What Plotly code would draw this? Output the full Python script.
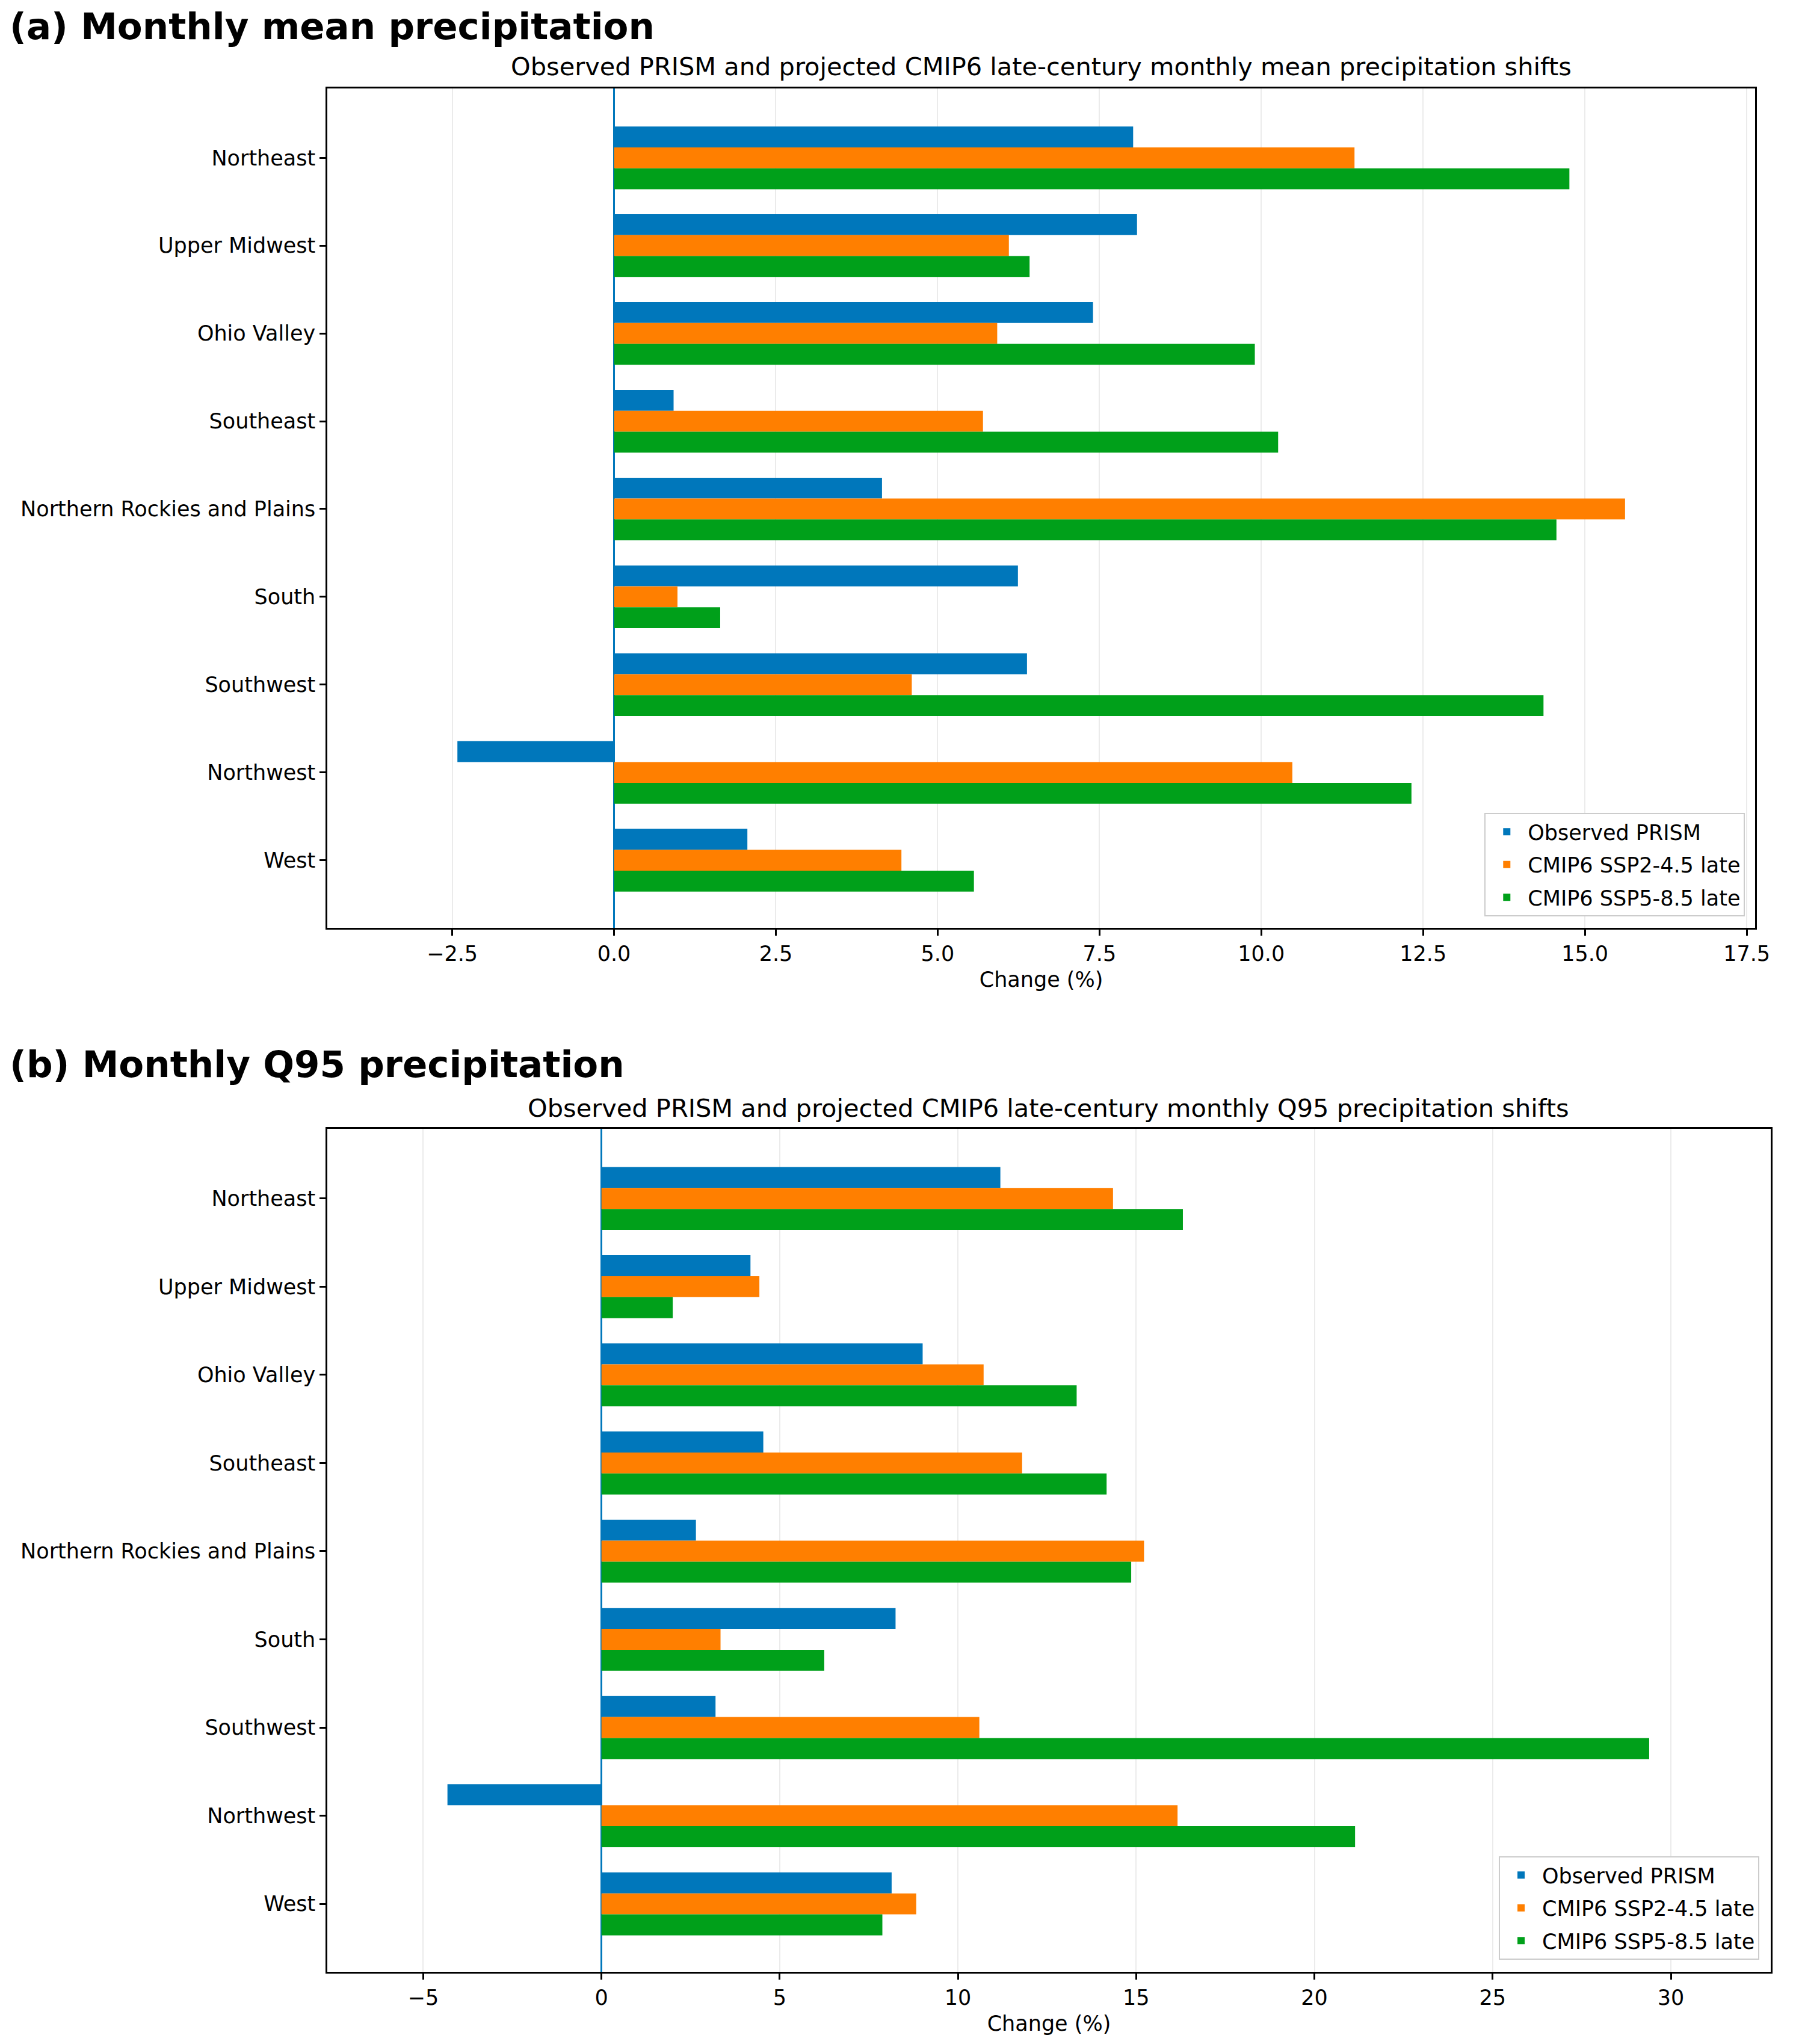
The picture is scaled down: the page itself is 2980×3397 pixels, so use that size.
import plotly.graph_objects as go

regions = ["Northeast", "Upper Midwest", "Ohio Valley", "Southeast",
           "Northern Rockies and Plains", "South", "Southwest", "Northwest", "West"]
series_names = ["Observed PRISM", "CMIP6 SSP2-4.5 late", "CMIP6 SSP5-8.5 late"]
colors = ["#0077BB", "#FF7F00", "#00A01A"]

# (a) monthly mean precipitation change (%)
mean_prism = [8.02, 8.08, 7.40, 0.92, 4.14, 6.24, 6.38, -2.42, 2.06]
mean_ssp245 = [11.44, 6.10, 5.92, 5.70, 15.62, 0.98, 4.60, 10.48, 4.44]
mean_ssp585 = [14.76, 6.42, 9.90, 10.26, 14.56, 1.64, 14.36, 12.32, 5.56]

# (b) monthly Q95 precipitation change (%)
q95_prism = [11.19, 4.18, 9.01, 4.54, 2.65, 8.25, 3.20, -4.32, 8.14]
q95_ssp245 = [14.35, 4.43, 10.72, 11.80, 15.22, 3.34, 10.60, 16.16, 8.83]
q95_ssp585 = [16.31, 2.00, 13.33, 14.17, 14.86, 6.25, 29.39, 21.14, 7.88]

FONT = "DejaVu Sans"

fig = go.Figure()

panels = [
    ("x", "y", "legend", "a", [mean_prism, mean_ssp245, mean_ssp585]),
    ("x2", "y2", "legend2", "b", [q95_prism, q95_ssp245, q95_ssp585]),
]
for xa, ya, leg, tag, vals in panels:
    for i, (name, col, v) in enumerate(zip(series_names, colors, vals)):
        fig.add_trace(go.Bar(
            y=regions, x=v, name=name, orientation="h",
            marker=dict(color=col, line=dict(width=0)),
            xaxis=xa, yaxis=ya, legend=leg, legendgroup=f"{tag}{i}",
        ))

axis_common = dict(
    showline=True, linecolor="black", linewidth=2.5, mirror=True,
    ticks="outside", ticklen=10, tickwidth=2.5, tickcolor="black",
    tickfont=dict(size=35, color="black", family=FONT),
)

legend_common = dict(xanchor="right", yanchor="bottom", bgcolor="white",
                     bordercolor="#CCCCCC", borderwidth=2, font=dict(size=35),
                     itemwidth=60, tracegroupgap=6)

fig.update_layout(
    width=2980, height=3397,
    paper_bgcolor="white", plot_bgcolor="white",
    margin=dict(l=544, r=20, t=147, b=120),
    barmode="group", bargap=0.286, bargroupgap=0,
    font=dict(family=FONT, color="black", size=35),
    xaxis=dict(domain=[0, 0.9892], anchor="y", range=[-4.43, 17.63], dtick=2.5, tick0=0,
               tickformat=".1f", showgrid=True, gridcolor="#EBEBEB", gridwidth=2,
               zeroline=True, zerolinecolor="#0077BB", zerolinewidth=3,
               title=dict(text="Change (%)", font=dict(size=35), standoff=12),
               **axis_common),
    yaxis=dict(domain=[0.5543, 1.0], anchor="x", range=[8.77, -0.79],
               showgrid=False, **axis_common),
    xaxis2=dict(domain=[0, 1.0], anchor="y2", range=[-7.69, 32.8], dtick=5, tick0=0,
                showgrid=True, gridcolor="#EBEBEB", gridwidth=2,
                zeroline=True, zerolinecolor="#0077BB", zerolinewidth=3,
                title=dict(text="Change (%)", font=dict(size=35), standoff=12),
                **axis_common),
    yaxis2=dict(domain=[0, 0.4476], anchor="x2", range=[8.77, -0.79],
                showgrid=False, **axis_common),
    legend=dict(x=0.9822, y=0.5604, **legend_common),
    legend2=dict(x=0.9921, y=0.0064, **legend_common),
    annotations=[
        dict(text="<b>(a) Monthly mean precipitation</b>", xref="paper", yref="paper",
             x=-0.221, y=1.0332, xanchor="left", yanchor="middle", showarrow=False,
             font=dict(size=61, family=FONT)),
        dict(text="Observed PRISM and projected CMIP6 late-century monthly mean precipitation shifts",
             xref="paper", yref="paper", x=0.4946, y=1.0118, xanchor="center", yanchor="middle",
             showarrow=False, font=dict(size=41.5, family=FONT)),
        dict(text="<b>(b) Monthly Q95 precipitation</b>", xref="paper", yref="paper",
             x=-0.221, y=0.4821, xanchor="left", yanchor="middle", showarrow=False,
             font=dict(size=61, family=FONT)),
        dict(text="Observed PRISM and projected CMIP6 late-century monthly Q95 precipitation shifts",
             xref="paper", yref="paper", x=0.4996, y=0.4585, xanchor="center", yanchor="middle",
             showarrow=False, font=dict(size=41.5, family=FONT)),
    ],
)

# drop the default body margin so the figure fills the window exactly
fig.write_html("out.html", config={"displayModeBar": False},
               post_script="document.body.style.margin='0';")
